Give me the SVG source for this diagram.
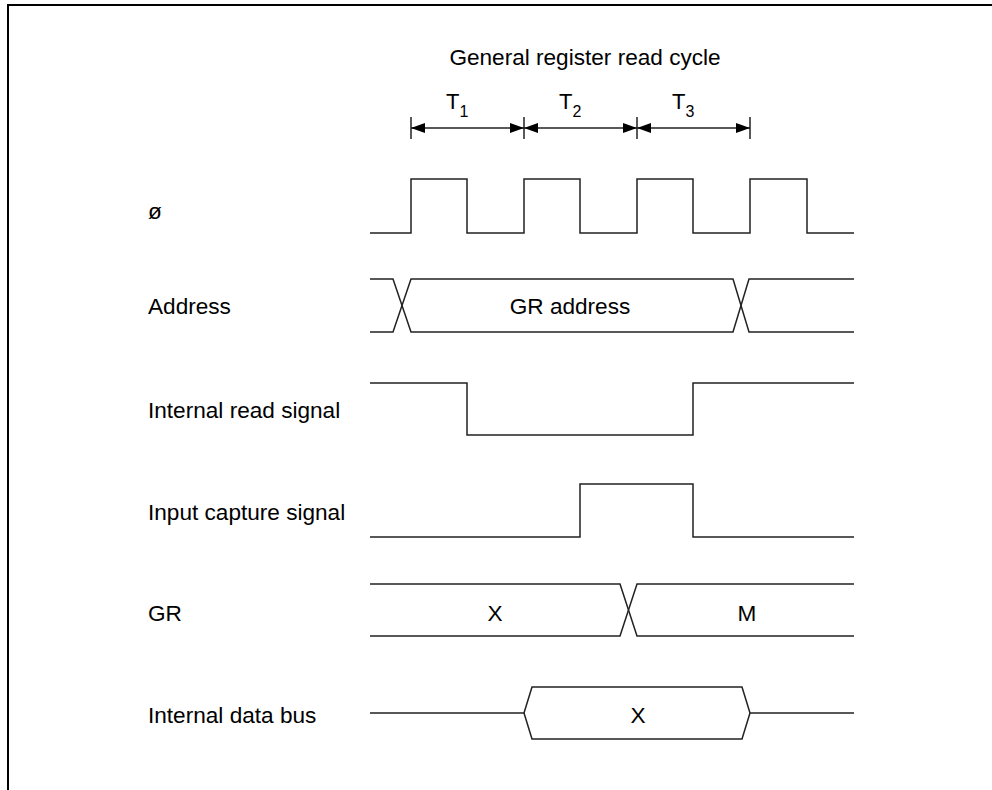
<svg xmlns="http://www.w3.org/2000/svg" width="992" height="790" viewBox="0 0 992 790">
<defs>
<marker id="ah" viewBox="0 0 14 10" refX="14" refY="5" markerWidth="14" markerHeight="10" markerUnits="userSpaceOnUse" orient="auto-start-reverse">
<path d="M0,0 L14,5 L0,10 Z" fill="#000"/>
</marker>
</defs>
<style>
text{font-family:"Liberation Sans",Arial,sans-serif;fill:#000}
.lbl{font-size:22.6px}
.w{fill:none;stroke:#222;stroke-width:1.5;stroke-linejoin:miter}
.dim{stroke:#222;stroke-width:1.5;fill:none}
</style>
<rect width="992" height="790" fill="#fff"/>
<path d="M8,790 V5 H992" fill="none" stroke="#000" stroke-width="2"/>
<text class="lbl" x="585" y="65" text-anchor="middle">General register read cycle</text>
<g id="timing-dims">
<line class="dim" x1="411" y1="117" x2="411" y2="139"/>
<line class="dim" x1="524" y1="117" x2="524" y2="139"/>
<line class="dim" x1="637" y1="117" x2="637" y2="139"/>
<line class="dim" x1="750" y1="117" x2="750" y2="139"/>
<line class="dim" x1="411" y1="128" x2="524" y2="128" marker-start="url(#ah)" marker-end="url(#ah)"/>
<line class="dim" x1="524" y1="128" x2="637" y2="128" marker-start="url(#ah)" marker-end="url(#ah)"/>
<line class="dim" x1="637" y1="128" x2="750" y2="128" marker-start="url(#ah)" marker-end="url(#ah)"/>
<text x="446" y="109" font-size="22">T<tspan font-size="16" dy="8">1</tspan></text>
<text x="559" y="109" font-size="22">T<tspan font-size="16" dy="8">2</tspan></text>
<text x="672" y="109" font-size="22">T<tspan font-size="16" dy="8">3</tspan></text>
</g>
<g id="phi">
<text class="lbl" x="148" y="219">ø</text>
<path class="w" d="M370,233 H411 V179 H467 V233 H524 V179 H580 V233 H637 V179 H693 V233 H750 V179 H807 V233 H854"/>
</g>
<g id="address">
<text class="lbl" x="148" y="314">Address</text>
<path class="w" d="M370,279 H393 L411,332 H733 L749,279 H854"/>
<path class="w" d="M370,332 H393 L411,279 H733 L749,332 H854"/>
<text class="lbl" x="570" y="314" text-anchor="middle">GR address</text>
</g>
<g id="internal-read">
<text class="lbl" x="148" y="418">Internal read signal</text>
<path class="w" d="M370,383 H467 V435 H693 V383 H854"/>
</g>
<g id="input-capture">
<text class="lbl" x="148" y="520">Input capture signal</text>
<path class="w" d="M370,537 H580 V484 H693 V537 H854"/>
</g>
<g id="gr">
<text class="lbl" x="148" y="621">GR</text>
<path class="w" d="M370,584 H620 L637,636 H854"/>
<path class="w" d="M370,636 H620 L637,584 H854"/>
<text class="lbl" x="495" y="621" text-anchor="middle">X</text>
<text class="lbl" x="747" y="621" text-anchor="middle">M</text>
</g>
<g id="data-bus">
<text class="lbl" x="148" y="723">Internal data bus</text>
<path class="w" d="M370,713 H524 L532,687 H742 L750,713 H854"/>
<path class="w" d="M524,713 L532,739 H742 L750,713"/>
<text class="lbl" x="638" y="723" text-anchor="middle">X</text>
</g>
</svg>
